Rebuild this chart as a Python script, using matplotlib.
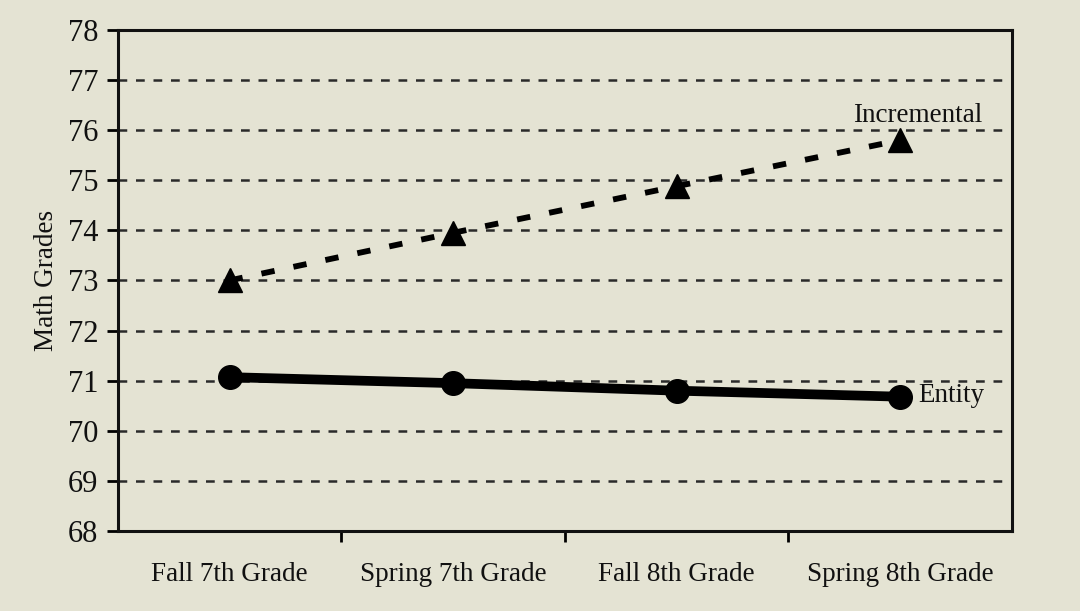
import matplotlib
matplotlib.use("Agg")
import matplotlib.pyplot as plt

categories = ["Fall 7th Grade", "Spring 7th Grade", "Fall 8th Grade", "Spring 8th Grade"]
incremental = [73.0, 73.95, 74.88, 75.8]
entity = [71.07, 70.95, 70.8, 70.68]
yticks = list(range(68, 79))

bg = "#e4e3d3"
plt.rcParams["font.family"] = ["Liberation Serif", "DejaVu Serif"]

fig = plt.figure(figsize=(10.8, 6.11), dpi=100, facecolor=bg)
ax = fig.add_axes([0.109, 0.131, 0.828, 0.82])
ax.set_facecolor(bg)

x = list(range(len(categories)))
for y in yticks[1:-1]:
    ax.axhline(y, color="#2a2a2a", lw=1.8, ls=(0, (3.5, 3.5)), zorder=1)

ax.plot(x, incremental, color="black", lw=4.2, ls=(0, (2.3, 3.3)),
        marker="^", ms=17, zorder=3)
ax.plot(x, entity, color="black", lw=7, ls="-", marker="o", ms=17, zorder=3)

ax.text(3.08, 76.3, "Incremental", fontsize=19.5, ha="center", va="center", color="#111111")
ax.text(3.08, 70.7, "Entity", fontsize=19.5, ha="left", va="center", color="#111111")

ax.set_xlim(-0.5, 3.5)
ax.set_ylim(68, 78)
ax.set_yticks(yticks)
ax.set_yticklabels([str(v) for v in yticks], fontsize=22, color="#111111")
ax.set_xticks([0.5, 1.5, 2.5])
ax.set_xticklabels([])
ax.set_xticks(x, minor=True)
ax.set_xticklabels(categories, minor=True, fontsize=19.5, color="#111111")
ax.tick_params(axis="x", which="minor", length=0, pad=22)
ax.tick_params(axis="x", which="major", length=8, width=2, direction="out")
ax.tick_params(axis="y", length=8, width=2, direction="out", pad=6)
for s in ax.spines.values():
    s.set_linewidth(2.2)
    s.set_color("#111111")
ax.set_ylabel("Math Grades", fontsize=19.5, labelpad=6, color="#111111")

fig.savefig("out.png", dpi=100, facecolor=bg)
